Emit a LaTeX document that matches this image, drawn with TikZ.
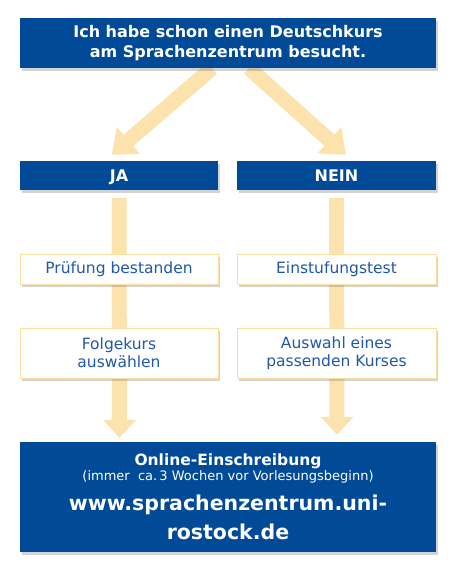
\documentclass[tikz,border=0pt]{standalone}
\usepackage{fontspec}
\setmainfont{DejaVu Sans}
\usepackage{xcolor}
\usepackage{tikz}
\usetikzlibrary{calc, positioning, shadows, arrows.meta, backgrounds}

\definecolor{szblau}{HTML}{004A98}
\definecolor{sztext}{HTML}{2059A8}
\definecolor{szgelb}{HTML}{FCE2AC}
\definecolor{szrand}{HTML}{FBDFA2}

\tikzset{
    blaubox/.style={fill=szblau, text=white, font=\bfseries, align=center,
        inner sep=0pt, drop shadow={shadow xshift=2pt, shadow yshift=-3pt, opacity=0.35}},
    hellbox/.style={fill=white, draw=szrand, line width=0.8pt, text=sztext, align=center,
        inner sep=0pt, font=\fontsize{15.5}{18}\selectfont,
        drop shadow={shadow xshift=2pt, shadow yshift=-3pt, opacity=0.35}},
    pfeil/.style={line width=15pt, szgelb, -{Triangle[width=32pt, length=18pt]}},
}

\begin{document}
\begin{tikzpicture}[x=1pt, y=-1pt]
    \useasboundingbox (0,0) rectangle (454,567);

    % =================================================================
    % OBERE FRAGE
    % =================================================================
    \node[blaubox, minimum width=416pt, minimum height=50pt, font=\bfseries\fontsize{16}{20}\selectfont]
        (frage) at (228,43) {Ich habe schon einen Deutschkurs\\am Sprachenzentrum besucht.};

    % =================================================================
    % ZWEI SPALTEN: JA / NEIN
    % =================================================================
    \node[blaubox, minimum width=198pt, minimum height=29pt, text height=12pt, text depth=0pt,
        font=\bfseries\fontsize{16}{19}\selectfont] (ja) at (119,175.5) {JA};
    \node[blaubox, minimum width=199pt, minimum height=29pt, text height=12pt, text depth=0pt,
        font=\bfseries\fontsize{16}{19}\selectfont] (nein) at (336.5,175.5) {NEIN};

    \node[hellbox, minimum width=198pt, minimum height=30pt] (pruefung) at (119,269) {Prüfung bestanden};
    \node[hellbox, minimum width=199pt, minimum height=30pt] (test) at (336.5,269) {Einstufungstest};

    \node[hellbox, minimum width=198pt, minimum height=50pt] (folgekurs) at (119,353) {Folgekurs\\auswählen};
    \node[hellbox, minimum width=199pt, minimum height=50pt] (auswahl) at (336.5,353) {Auswahl eines\\passenden Kurses};

    % =================================================================
    % ANMELDUNG UNTEN
    % =================================================================
    \node[blaubox, minimum width=416pt, minimum height=110pt]
        (anmeldung) at (228,497) {%
        \bfseries\fontsize{15.5}{18}\selectfont Online-Einschreibung\\[1pt]
        \mdseries\fontsize{13}{16}\selectfont (immer\ \ ca.\,3 Wochen vor Vorlesungsbeginn)\\[10pt]
        \bfseries\fontsize{20.5}{26}\selectfont www.sprachenzentrum.uni-\\[9pt]
        \bfseries\fontsize{20.5}{26}\selectfont rostock.de};

    % Pfeile hinter den Kästen
    \begin{scope}[on background layer]
        \draw[pfeil, -{Triangle[width=34pt, length=22pt]}]
            ($(frage.south)+(-16,0)$) -- ($(ja.north west)+(92,-6)$);
        \draw[pfeil, -{Triangle[width=34pt, length=22pt]}]
            ($(frage.south)+(21,0)$) -- ($(nein.north west)+(109,-6)$);
        \draw[pfeil] ($(ja.south)+(0,8)$) -- ($(anmeldung.north)+(-108.5,-4)$);
        \draw[pfeil] ($(nein.south)+(0,8)$) -- ($(anmeldung.north)+(109,-7)$);
    \end{scope}

\end{tikzpicture}
\end{document}
